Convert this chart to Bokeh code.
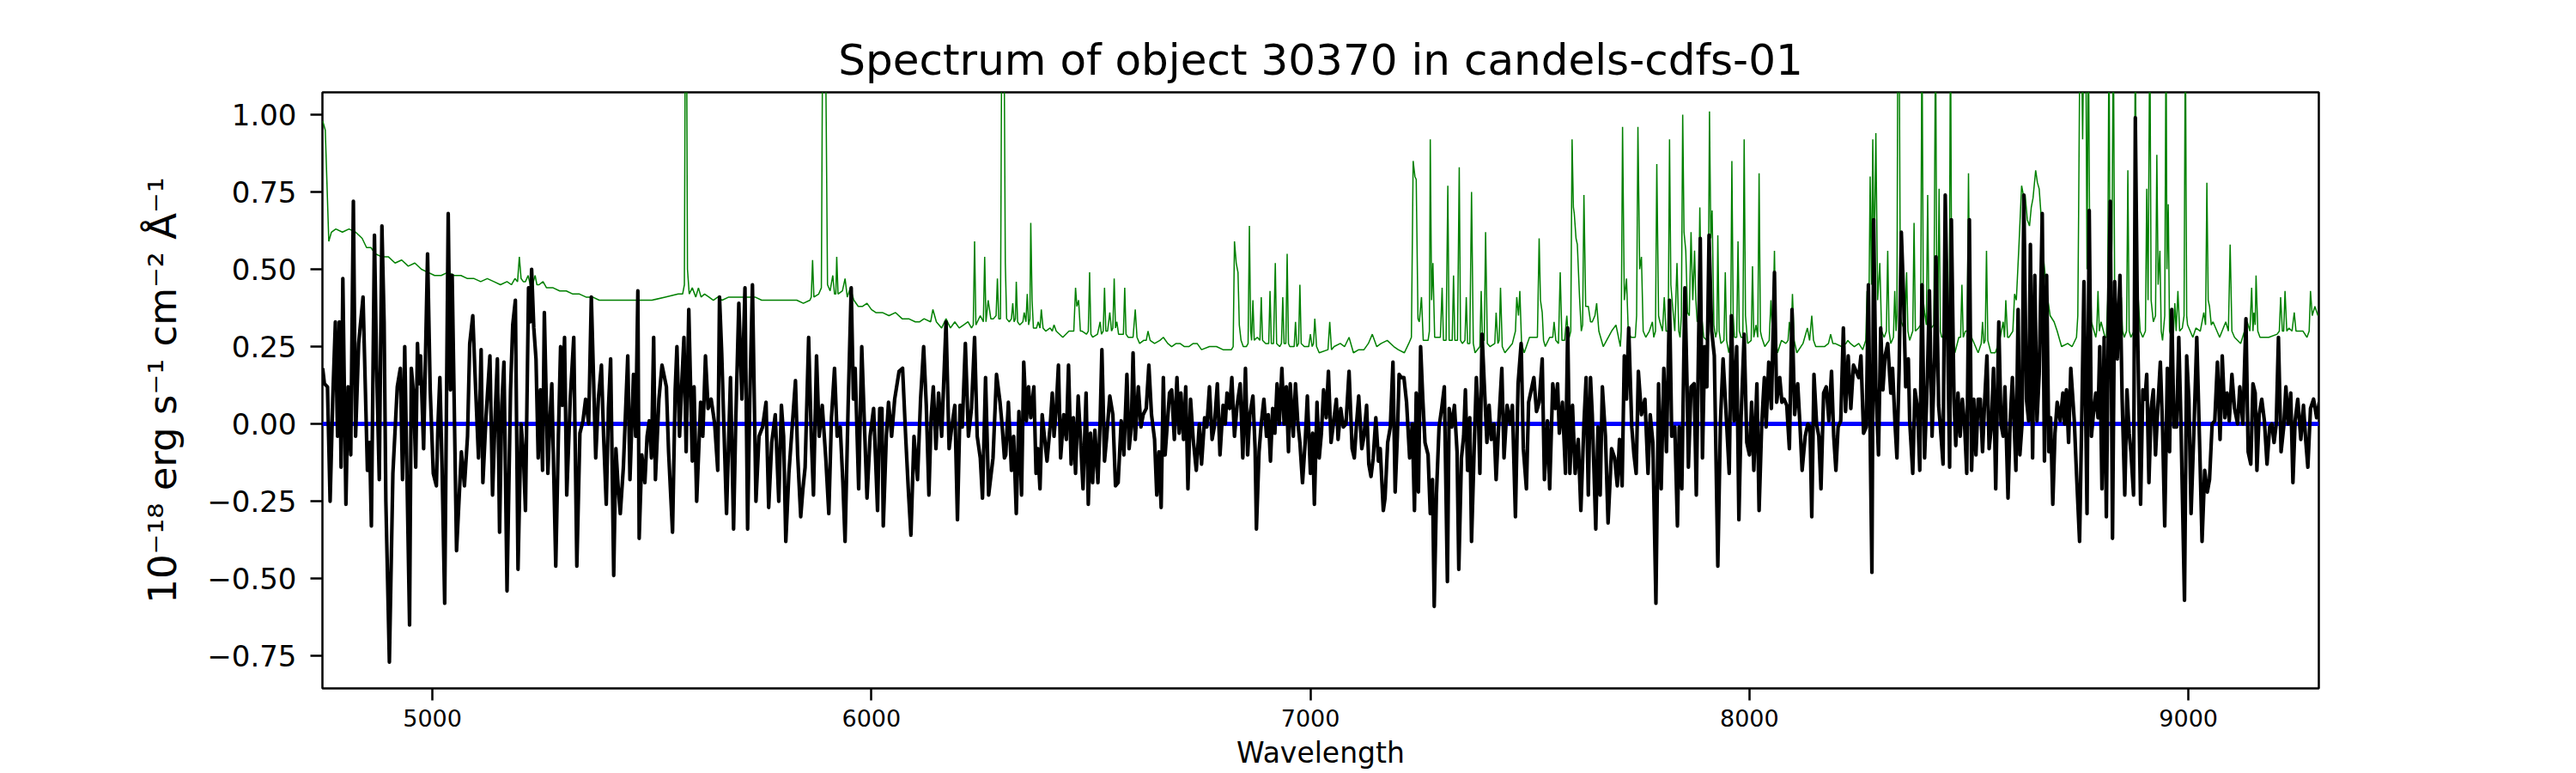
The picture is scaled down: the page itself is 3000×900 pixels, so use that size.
from bokeh.plotting import figure
from bokeh.models import Range1d, FixedTicker, CustomJSTickFormatter
from bokeh.embed import file_html
from bokeh.resources import INLINE

title_text = "Spectrum of object 30370 in candels-cdfs-01"
x_label = "Wavelength"
y_label = "10\u207b\u00b9\u2078 erg s\u207b\u00b9 cm\u207b\u00b2 \u00c5\u207b\u00b9"
x_ticks = [5000, 6000, 7000, 8000, 9000]
y_ticks = [-0.75, -0.5, -0.25, 0.0, 0.25, 0.5, 0.75, 1.0]
x_limits = (4749.5, 9297.0)
y_limits = (-0.855, 1.072)

# observed flux (black)
flux_wave = [
    4750, 4754, 4761, 4767, 4773, 4779, 4784, 4788, 4792, 4796,
    4803, 4808, 4814, 4820, 4825, 4832, 4842, 4852, 4857, 4861,
    4868, 4873, 4879, 4885, 4890, 4894, 4902, 4910, 4920, 4927,
    4932, 4937, 4948, 4952, 4957, 4962, 4966, 4969, 4973, 4980,
    4989, 4995, 5002, 5009, 5013, 5017, 5022, 5028, 5036, 5041,
    5045, 5055, 5066, 5073, 5080, 5085, 5092, 5098, 5105, 5111,
    5115, 5122, 5131, 5137, 5143, 5148, 5153, 5158, 5163, 5170,
    5178, 5183, 5189, 5195, 5202, 5207, 5212, 5219, 5223, 5226,
    5231, 5236, 5241, 5246, 5251, 5255, 5263, 5268, 5272, 5281,
    5287, 5292, 5296, 5301, 5306, 5314, 5322, 5329, 5336, 5343,
    5349, 5356, 5362, 5372, 5378, 5385, 5390, 5396, 5401, 5406,
    5413, 5418, 5423, 5428, 5435, 5445, 5450, 5458, 5463, 5468,
    5471, 5477, 5484, 5489, 5494, 5499, 5504, 5508, 5516, 5523,
    5533, 5538, 5547, 5553, 5557, 5563, 5568, 5573, 5578, 5584,
    5592, 5596, 5602, 5611, 5616, 5622, 5628, 5635, 5643, 5650,
    5654, 5659, 5664, 5670, 5679, 5686, 5691, 5698, 5705, 5712,
    5718, 5723, 5729, 5737, 5744, 5752, 5760, 5766, 5773, 5781,
    5789, 5795, 5800, 5805, 5812, 5820, 5827, 5832, 5839, 5844,
    5849, 5857, 5863, 5868, 5875, 5881, 5888, 5896, 5903, 5909,
    5916, 5922, 5929, 5935, 5940, 5947, 5954, 5959, 5963, 5971,
    5978, 5985, 5990, 5997, 6005, 6014, 6019, 6024, 6027, 6034,
    6039, 6046, 6053, 6063, 6071, 6078, 6084, 6090, 6097, 6105,
    6112, 6119, 6125, 6131, 6136, 6141, 6147, 6153, 6160, 6170,
    6177, 6183, 6190, 6196, 6202, 6207, 6214, 6221, 6228, 6235,
    6241, 6248, 6253, 6260, 6267, 6277, 6285, 6293, 6298, 6303,
    6306, 6312, 6319, 6324, 6330, 6336, 6342, 6347, 6353, 6358,
    6363, 6370, 6375, 6379, 6384, 6389, 6394, 6400, 6407, 6412,
    6416, 6421, 6426, 6431, 6438, 6444, 6449, 6455, 6460, 6465,
    6471, 6476, 6482, 6489, 6494, 6499, 6504, 6509, 6516, 6521,
    6525, 6531, 6536, 6543, 6550, 6556, 6562, 6569, 6575, 6582,
    6587, 6592, 6596, 6601, 6608, 6614, 6619, 6626, 6632, 6638,
    6645, 6650, 6655, 6660, 6665, 6669, 6674, 6679, 6684, 6690,
    6696, 6701, 6705, 6711, 6716, 6721, 6727, 6733, 6740, 6747,
    6752, 6759, 6764, 6770, 6776, 6781, 6788, 6794, 6801, 6806,
    6810, 6816, 6821, 6827, 6833, 6840, 6846, 6852, 6857, 6862,
    6869, 6874, 6877, 6883, 6888, 6894, 6900, 6904, 6909, 6914,
    6919, 6924, 6929, 6935, 6940, 6945, 6950, 6954, 6961, 6966,
    6971, 6976, 6982, 6988, 6993, 7000, 7005, 7009, 7015, 7020,
    7025, 7030, 7036, 7041, 7047, 7054, 7059, 7063, 7069, 7075,
    7081, 7088, 7095, 7100, 7105, 7110, 7117, 7122, 7128, 7133,
    7138, 7143, 7149, 7155, 7159, 7166, 7170, 7176, 7182, 7188,
    7193, 7198, 7202, 7207, 7213, 7219, 7226, 7232, 7237, 7241,
    7246, 7251, 7256, 7261, 7268, 7273, 7278, 7282, 7287, 7293,
    7299, 7305, 7312, 7316, 7322, 7328, 7334, 7338, 7344, 7349,
    7353, 7358, 7363, 7367, 7373, 7378, 7383, 7386, 7391, 7396,
    7402, 7407, 7412, 7418, 7423, 7429, 7436, 7441, 7448, 7455,
    7460, 7467, 7473, 7480, 7485, 7492, 7497, 7503, 7509, 7515,
    7521, 7528, 7533, 7540, 7545, 7552, 7558, 7563, 7567, 7574,
    7581, 7586, 7591, 7597, 7603, 7610, 7616, 7623, 7628, 7633,
    7638, 7642, 7650, 7655, 7660, 7665, 7672, 7678, 7686, 7693,
    7699, 7704, 7710, 7715, 7720, 7725, 7732, 7737, 7742, 7747,
    7754, 7762, 7769, 7774, 7780, 7787, 7793, 7799, 7805, 7811,
    7818, 7823, 7830, 7836, 7840, 7846, 7853, 7858, 7861, 7867,
    7874, 7879, 7884, 7888, 7893, 7898, 7903, 7908, 7914, 7920,
    7928, 7934, 7940, 7947, 7954, 7959, 7965, 7971, 7976, 7981,
    7988, 7994, 8000, 8005, 8010, 8017, 8022, 8028, 8034, 8038,
    8044, 8050, 8057, 8062, 8069, 8074, 8079, 8085, 8091, 8097,
    8103, 8110, 8115, 8120, 8127, 8133, 8138, 8142, 8147, 8153,
    8158, 8163, 8169, 8175, 8181, 8187, 8192, 8197, 8202, 8208,
    8214, 8219, 8225, 8231, 8237, 8243, 8249, 8254, 8260, 8266,
    8271, 8275, 8279, 8283, 8288, 8294, 8299, 8304, 8309, 8315,
    8322, 8326, 8332, 8336, 8341, 8346, 8351, 8356, 8362, 8365,
    8372, 8377, 8383, 8388, 8393, 8399, 8405, 8410, 8416, 8422,
    8425, 8431, 8435, 8441, 8446, 8451, 8456, 8460, 8466, 8470,
    8475, 8480, 8485, 8490, 8495, 8501, 8506, 8511, 8516, 8521,
    8526, 8531, 8536, 8541, 8546, 8551, 8556, 8561, 8568, 8573,
    8578, 8582, 8589, 8594, 8599, 8607, 8612, 8616, 8621, 8625,
    8631, 8636, 8640, 8645, 8650, 8655, 8660, 8667, 8672, 8677,
    8682, 8686, 8691, 8696, 8701, 8708, 8714, 8718, 8722, 8727,
    8732, 8740, 8745, 8752, 8757, 8762, 8769, 8774, 8779, 8784,
    8789, 8794, 8798, 8803, 8808, 8813, 8818, 8822, 8827, 8832,
    8838, 8844, 8849, 8855, 8860, 8865, 8869, 8875, 8879, 8884,
    8891, 8896, 8901, 8905, 8910, 8915, 8920, 8925, 8930, 8936,
    8941, 8946, 8952, 8957, 8962, 8967, 8973, 8978, 8983, 8991,
    8996, 9001, 9006, 9012, 9019, 9025, 9031, 9037, 9043, 9048,
    9054, 9060, 9066, 9072, 9077, 9083, 9088, 9093, 9099, 9105,
    9112, 9117, 9124, 9131, 9136, 9142, 9147, 9152, 9156, 9161,
    9167, 9173, 9179, 9185, 9190, 9195, 9200, 9205, 9211, 9217,
    9222, 9227, 9233, 9238, 9243, 9249, 9256, 9262, 9267, 9272,
    9278, 9285, 9292, 9298,
]
flux = [
    0.18, 0.13, 0.12, -0.25, 0.08, 0.33, -0.04, 0.33, -0.14, 0.47,
    -0.26, 0.12, -0.10, 0.72, -0.04, 0.26, 0.41, -0.15, -0.06, -0.33,
    0.61, 0.18, -0.18, 0.64, 0.33, -0.25, -0.77, -0.16, 0.12, 0.18,
    -0.18, 0.25, -0.65, 0.18, 0.10, -0.14, 0.26, 0.13, 0.22, -0.08,
    0.55, 0.11, -0.16, -0.20, 0.01, 0.15, -0.14, -0.58, 0.68, 0.11,
    0.48, -0.41, -0.09, -0.20, -0.04, 0.26, 0.35, 0.13, -0.11, 0.24,
    -0.19, 0.02, 0.22, -0.23, 0.03, 0.21, -0.35, 0.06, 0.20, -0.54,
    0.11, 0.32, 0.40, -0.47, 0.00, -0.09, -0.28, 0.44, 0.33, 0.50,
    0.31, 0.21, -0.11, 0.11, -0.15, 0.36, -0.16, 0.02, 0.13, -0.46,
    -0.04, 0.25, 0.06, 0.28, -0.23, 0.08, 0.28, -0.46, -0.03, 0.01,
    0.08, 0.00, 0.41, -0.11, 0.08, 0.19, -0.04, -0.26, 0.05, 0.21,
    -0.49, -0.08, -0.20, -0.29, -0.14, 0.22, -0.18, 0.16, -0.04, 0.43,
    -0.37, -0.10, -0.19, -0.04, 0.01, -0.11, 0.28, -0.18, 0.08, 0.19,
    0.12, -0.09, -0.35, 0.11, 0.25, -0.04, 0.13, 0.28, -0.09, 0.37,
    -0.12, 0.12, -0.25, 0.07, -0.04, 0.22, 0.05, 0.08, 0.00, -0.15,
    0.41, 0.23, -0.01, -0.29, 0.15, -0.34, 0.01, 0.39, 0.08, 0.44,
    -0.34, 0.08, 0.45, -0.25, -0.04, -0.01, 0.07, -0.27, -0.06, 0.03,
    -0.25, 0.06, -0.04, -0.38, -0.16, 0.00, 0.14, -0.10, -0.30, -0.21,
    -0.14, 0.28, -0.04, -0.23, 0.22, -0.04, 0.06, -0.11, -0.29, 0.02,
    0.18, -0.04, -0.01, -0.19, -0.38, 0.06, 0.44, 0.08, 0.18, -0.21,
    0.25, -0.04, -0.24, -0.04, 0.05, -0.28, 0.05, 0.05, -0.33, -0.04,
    0.07, -0.04, 0.08, 0.17, 0.18, -0.04, -0.21, -0.36, -0.04, -0.18,
    0.08, 0.25, 0.06, -0.23, 0.02, 0.12, -0.08, 0.10, -0.04, 0.33,
    -0.08, -0.01, 0.06, -0.31, 0.06, -0.01, 0.26, -0.04, 0.05, 0.28,
    -0.04, -0.11, -0.24, 0.15, -0.23, -0.11, 0.16, 0.07, -0.01, -0.11,
    -0.10, 0.07, -0.15, -0.04, -0.29, 0.04, -0.23, 0.20, 0.01, 0.12,
    0.02, 0.12, -0.16, -0.08, -0.21, 0.03, -0.04, -0.12, -0.01, 0.10,
    -0.04, 0.05, 0.19, -0.11, 0.03, -0.05, 0.19, -0.13, 0.02, -0.16,
    0.09, -0.04, -0.21, 0.10, -0.26, -0.03, -0.19, -0.02, -0.19, 0.01,
    0.24, -0.12, -0.04, 0.09, 0.03, -0.20, -0.19, 0.01, -0.10, 0.16,
    -0.08, -0.01, 0.23, -0.05, 0.12, -0.01, 0.03, 0.05, 0.19, 0.03,
    -0.05, -0.23, -0.09, -0.27, 0.15, -0.10, 0.00, 0.10, 0.11, -0.05,
    0.15, -0.03, 0.10, -0.05, 0.12, -0.21, 0.08, -0.05, -0.15, 0.00,
    -0.13, 0.02, -0.01, 0.12, -0.05, -0.01, 0.13, -0.10, 0.06, 0.00,
    0.10, 0.05, 0.15, -0.04, 0.06, 0.13, -0.11, 0.18, -0.10, 0.03,
    0.09, -0.08, -0.34, -0.09, 0.00, 0.08, -0.04, 0.03, -0.12, 0.05,
    -0.03, 0.13, 0.00, 0.18, 0.00, 0.12, -0.09, 0.13, -0.04, 0.13,
    0.01, -0.06, -0.19, -0.06, 0.09, -0.16, -0.03, -0.26, 0.07, -0.11,
    -0.03, 0.11, 0.02, 0.17, -0.06, 0.02, 0.08, -0.05, 0.05, -0.01,
    0.00, 0.17, -0.08, -0.11, 0.00, 0.09, -0.08, -0.04, 0.06, -0.13,
    -0.17, -0.11, 0.02, -0.12, -0.08, -0.28, -0.24, -0.06, -0.01, 0.20,
    -0.22, -0.04, 0.16, 0.15, 0.15, 0.07, -0.11, 0.00, -0.28, 0.10,
    -0.22, 0.25, 0.08, -0.06, -0.10, -0.29, -0.18, -0.59, -0.23, -0.01,
    0.05, 0.12, -0.51, 0.05, -0.01, 0.06, -0.09, -0.47, -0.11, -0.04,
    0.11, -0.15, 0.02, -0.38, -0.08, 0.15, 0.01, -0.16, 0.29, 0.13,
    -0.06, 0.06, -0.05, 0.00, -0.18, 0.00, 0.18, -0.11, 0.06, 0.00,
    0.06, -0.30, 0.13, 0.26, -0.08, -0.21, 0.07, 0.11, 0.15, 0.04,
    0.07, 0.21, -0.18, 0.01, -0.21, 0.13, 0.05, 0.13, -0.03, 0.07,
    -0.16, 0.31, -0.16, 0.06, -0.16, -0.05, -0.28, 0.00, 0.15, -0.23,
    0.15, 0.03, -0.34, -0.01, -0.23, 0.12, -0.04, -0.32, -0.08, -0.11,
    -0.20, -0.05, -0.20, 0.22, 0.08, 0.31, -0.01, -0.10, -0.16, 0.17,
    0.03, 0.08, -0.16, 0.03, -0.06, -0.58, 0.13, -0.21, 0.18, -0.09,
    0.40, -0.04, -0.01, -0.33, -0.01, -0.21, 0.44, 0.12, -0.14, 0.12,
    0.13, -0.23, 0.25, 0.60, -0.11, 0.25, 0.12, 0.61, 0.30, 0.22,
    -0.46, 0.01, 0.21, 0.03, -0.16, 0.35, 0.01, 0.25, -0.31, 0.02,
    0.29, -0.06, -0.10, 0.07, -0.15, 0.13, -0.28, 0.00, 0.15, -0.01,
    0.20, 0.05, 0.49, 0.07, 0.15, 0.07, 0.08, 0.06, -0.08, 0.37,
    0.03, 0.13, 0.00, -0.15, -0.04, 0.00, -0.01, -0.30, 0.16, 0.00,
    -0.04, -0.21, 0.10, 0.12, 0.01, 0.17, -0.04, -0.15, -0.01, 0.01,
    0.31, 0.04, 0.22, 0.05, 0.19, 0.17, 0.15, 0.22, -0.03, -0.01,
    0.45, -0.04, -0.48, 0.66, 0.12, -0.10, 0.31, 0.11, 0.22, 0.26,
    0.10, 0.18, -0.01, -0.11, 0.18, 0.62, 0.42, 0.12, 0.21, 0.01,
    -0.16, 0.11, 0.05, -0.15, 0.45, -0.11, 0.13, 0.43, -0.04, 0.22,
    0.54, 0.06, -0.01, -0.13, 0.74, 0.33, -0.14, 0.66, 0.08, -0.07,
    0.10, -0.04, 0.08, 0.00, -0.16, 0.66, -0.15, 0.08, -0.10, 0.08,
    0.08, -0.09, 0.08, 0.22, -0.08, -0.01, 0.18, -0.21, 0.33, 0.00,
    -0.04, 0.12, -0.24, 0.01, 0.15, -0.15, 0.37, -0.10, 0.00, 0.74,
    0.08, 0.01, 0.58, -0.11, 0.48, 0.01, 0.16, 0.68, -0.12, 0.48,
    -0.09, 0.02, -0.26, -0.03, 0.07, 0.01, 0.10, 0.00, 0.11, -0.06,
    0.18, 0.01, -0.16, -0.38, 0.02, 0.46, -0.29, 0.69, -0.04, 0.04,
    0.10, 0.02, 0.25, -0.21, 0.28, -0.30, 0.36, 0.72, -0.37, 0.46,
    0.21, 0.48, 0.08, -0.23, 0.11, -0.03, -0.09, -0.23, 0.99, 0.32,
    -0.26, 0.11, 0.08, 0.16, -0.19, 0.05, 0.11, -0.10, 0.05, 0.20,
    -0.01, -0.33, 0.18, -0.09, 0.37, -0.01, -0.01, 0.28, 0.00, -0.57,
    0.22, 0.08, -0.29, -0.04, 0.28, -0.04, -0.38, -0.15, -0.22, -0.18,
    0.00, 0.01, 0.20, -0.05, 0.22, 0.02, 0.10, 0.01, 0.16, 0.05,
    0.00, 0.12, 0.00, 0.34, -0.09, -0.13, 0.13, 0.10, -0.15, 0.03,
    0.08, 0.01, -0.13, -0.01, 0.00, -0.06, 0.00, 0.28, -0.09, -0.01,
    0.12, 0.00, 0.10, -0.19, 0.01, 0.08, -0.05, 0.06, -0.05, -0.14,
    0.05, 0.08, 0.02, 0.07,
]

# sky / noise spectrum (green)
sky_wave = [
    4750, 4756, 4764, 4770, 4780, 4795, 4810, 4825, 4840, 4850,
    4860, 4870, 4885, 4900, 4915, 4930, 4945, 4960, 4975, 4990,
    5005, 5020, 5035, 5050, 5065, 5080, 5095, 5110, 5125, 5140,
    5155, 5170, 5180, 5188, 5194, 5198, 5202, 5207, 5212, 5218,
    5223, 5228, 5234, 5238, 5243, 5252, 5260, 5275, 5290, 5305,
    5320, 5335, 5350, 5365, 5380, 5395, 5410, 5440, 5470, 5500,
    5530, 5560, 5570, 5574, 5576, 5579, 5581, 5585, 5592, 5600,
    5606, 5612, 5620, 5630, 5640, 5650, 5660, 5675, 5690, 5705,
    5720, 5735, 5750, 5765, 5780, 5800, 5815, 5830, 5845, 5860,
    5863, 5866, 5869, 5880, 5886, 5889, 5895, 5897, 5900, 5906,
    5912, 5916, 5919, 5921, 5924, 5934, 5940, 5945, 5952, 5960,
    5970, 5980, 5990, 6000, 6010, 6025, 6040, 6055, 6070, 6085,
    6100, 6110, 6120, 6135, 6140, 6148, 6160, 6170, 6180, 6190,
    6200, 6210, 6220, 6228, 6232, 6235, 6238, 6248, 6255, 6258,
    6261,
    6266, 6272, 6278, 6284, 6287, 6290, 6294, 6297, 6302, 6305,
    6308, 6314, 6319, 6322, 6325, 6328, 6330, 6333, 6338, 6345,
    6348, 6352, 6355, 6358, 6361, 6363, 6366, 6369, 6376, 6380,
    6384, 6387, 6391, 6397, 6407, 6412, 6416, 6421, 6436, 6450,
    6461, 6465, 6468, 6472, 6476, 6480, 6490, 6494, 6497, 6500,
    6504, 6515, 6521, 6524, 6528, 6531, 6534, 6538, 6543, 6547,
    6550, 6553, 6556, 6559, 6563, 6567, 6574, 6577, 6580, 6585,
    6596, 6601, 6605, 6611, 6620, 6626, 6630, 6635, 6645, 6657,
    6665, 6675, 6684, 6694, 6703, 6713, 6723, 6733, 6742, 6752,
    6770, 6786, 6801, 6820, 6824, 6827, 6831, 6835, 6838, 6842,
    6847, 6854, 6858, 6861, 6864, 6866, 6869, 6872, 6879, 6885,
    6888, 6891, 6898, 6905, 6908, 6911, 6916, 6920, 6923, 6930,
    6934, 6937, 6940, 6944, 6947, 6950, 6953, 6963, 6966, 6969,
    6973, 6976, 6979, 6986, 6996, 7000, 7004, 7007, 7010, 7014,
    7020, 7040, 7044, 7048, 7054, 7068, 7078, 7088, 7098, 7110,
    7122, 7132, 7141, 7151, 7161, 7175, 7190, 7200, 7214, 7224,
    7230, 7234, 7238, 7241, 7245, 7248, 7253, 7257, 7268, 7271,
    7273, 7276, 7279, 7283, 7287, 7296, 7300, 7303, 7309, 7313,
    7316, 7323, 7326, 7329, 7335, 7339, 7342, 7346, 7352, 7355,
    7358, 7363, 7367, 7371, 7375, 7386, 7389, 7392, 7396, 7399,
    7403, 7409, 7420, 7423, 7427, 7430, 7433, 7437, 7443, 7460,
    7467, 7470, 7474, 7477, 7481, 7487, 7499, 7509, 7517, 7521,
    7524, 7528, 7531, 7535, 7545, 7552, 7555, 7559, 7565, 7569,
    7573, 7579, 7584, 7588, 7593, 7596, 7599, 7601, 7605, 7608,
    7613, 7617, 7620, 7623, 7627, 7633, 7638, 7642, 7648, 7652,
    7657, 7667, 7686, 7696, 7706, 7708, 7711, 7715, 7720, 7724,
    7730, 7740, 7743, 7746, 7750, 7754, 7758, 7764, 7772, 7779,
    7782, 7786, 7789, 7793, 7796, 7802, 7806, 7810, 7815, 7818,
    7821, 7825, 7830, 7835, 7839, 7842, 7845, 7848, 7851, 7855,
    7859, 7863, 7867, 7871, 7875, 7878, 7881, 7884, 7887, 7891,
    7896, 7903, 7906, 7909, 7912, 7915, 7919, 7923, 7926, 7928,
    7931, 7935, 7942, 7945, 7948, 7953, 7957, 7960, 7963, 7966,
    7971, 7974, 7977, 7981, 7985, 7988, 7991, 7996, 8004, 8007,
    8010, 8015, 8019, 8022, 8025, 8028, 8035, 8045, 8049, 8053,
    8057, 8060, 8064, 8073, 8083, 8088, 8091, 8095, 8098, 8102,
    8108, 8122, 8132, 8137, 8142, 8146, 8151, 8171, 8180, 8185,
    8190, 8195, 8210, 8220, 8224, 8230, 8239, 8249, 8258, 8265,
    8268, 8272, 8275, 8278, 8281, 8284, 8288, 8292, 8297, 8301,
    8307, 8312, 8315, 8318, 8322, 8328, 8331, 8334, 8336, 8338,
    8341, 8344, 8346, 8354, 8358, 8361, 8365, 8372, 8375, 8378,
    8385, 8390, 8393, 8396, 8399, 8403, 8406, 8409, 8414, 8420,
    8424, 8427, 8429, 8432, 8435, 8438, 8445, 8448, 8451, 8455,
    8458, 8461, 8468, 8477, 8481, 8484, 8487, 8492, 8496, 8499,
    8502, 8506, 8521, 8528, 8531, 8534, 8537, 8540, 8543, 8550,
    8560, 8570, 8578, 8581, 8584, 8588, 8591, 8600, 8604, 8608,
    8614, 8620, 8624, 8628, 8633, 8638, 8642, 8646, 8652, 8656,
    8660, 8664, 8667, 8671, 8675, 8680, 8685, 8694, 8701, 8711,
    8725, 8735, 8745, 8748, 8750, 8753, 8756, 8759, 8762, 8766,
    8769, 8772, 8775, 8779, 8789, 8791, 8794, 8797, 8801, 8810,
    8813, 8816, 8819, 8821, 8823, 8826, 8829, 8832, 8837, 8844,
    8847, 8850, 8854, 8859, 8862, 8865, 8869, 8876, 8879, 8882,
    8886, 8890, 8896, 8902, 8905, 8908, 8912, 8915, 8920, 8925,
    8928, 8931, 8935, 8938, 8941, 8946, 8949, 8951, 8954, 8957,
    8961, 8966, 8969, 8972, 8976, 8980, 8986, 8990, 8993, 8996,
    8998, 9010, 9017, 9027, 9035, 9039, 9042, 9045, 9048, 9052,
    9056, 9071, 9085, 9091, 9095, 9099, 9105, 9119, 9134, 9140,
    9144, 9147, 9149, 9152, 9154, 9158, 9163, 9183, 9202, 9207,
    9210, 9214, 9217, 9220, 9224, 9229, 9236, 9241, 9245, 9251,
    9261, 9270, 9275, 9278, 9282, 9288, 9295,
]
sky = [
    0.98, 0.95, 0.59, 0.62, 0.63, 0.62, 0.63, 0.62, 0.60, 0.57,
    0.57, 0.55, 0.54, 0.54, 0.52, 0.53, 0.51, 0.52, 0.50, 0.49,
    0.48, 0.48, 0.49, 0.48, 0.48, 0.47, 0.47, 0.46, 0.47, 0.46,
    0.45, 0.46, 0.45, 0.47, 0.46, 0.54, 0.47, 0.46, 0.46, 0.48,
    0.45, 0.45, 0.48, 0.45, 0.45, 0.46, 0.44, 0.44, 0.43, 0.43,
    0.42, 0.42, 0.41, 0.41, 0.40, 0.40, 0.40, 0.40, 0.40, 0.40,
    0.41, 0.42, 0.42, 0.45, 1.30, 1.30, 0.50, 0.42, 0.44, 0.41,
    0.44, 0.41, 0.42, 0.41, 0.40, 0.41, 0.40, 0.41, 0.41, 0.41,
    0.41, 0.41, 0.40, 0.40, 0.40, 0.40, 0.40, 0.40, 0.39, 0.40,
    0.41, 0.53, 0.41, 0.42, 0.44, 1.30, 1.30, 0.99, 0.45, 0.43,
    0.48, 0.42, 0.42, 0.54, 0.42, 0.43, 0.47, 0.41, 0.44, 0.40,
    0.38, 0.38, 0.39, 0.37, 0.36, 0.36, 0.35, 0.36, 0.34, 0.34,
    0.33, 0.33, 0.34, 0.33, 0.37, 0.33, 0.31, 0.34, 0.31, 0.33,
    0.31, 0.32, 0.33, 0.31, 0.32, 0.59, 0.32, 0.35, 0.33, 0.54,
    0.33,
    0.40, 0.34, 0.34, 0.35, 0.47, 0.34, 0.34, 1.30, 1.30, 0.52,
    0.34, 0.33, 0.34, 0.39, 0.33, 0.34, 0.46, 0.33, 0.32, 0.33,
    0.36, 0.33, 0.42, 0.32, 0.34, 0.65, 0.40, 0.31, 0.31, 0.33,
    0.31, 0.37, 0.31, 0.30, 0.31, 0.30, 0.32, 0.30, 0.28, 0.30,
    0.30, 0.44, 0.38, 0.40, 0.30, 0.30, 0.29, 0.30, 0.49, 0.29,
    0.28, 0.29, 0.33, 0.29, 0.30, 0.44, 0.30, 0.30, 0.36, 0.30,
    0.31, 0.47, 0.31, 0.33, 0.29, 0.29, 0.29, 0.44, 0.29, 0.28,
    0.28, 0.37, 0.28, 0.26, 0.27, 0.27, 0.30, 0.27, 0.26, 0.27,
    0.28, 0.26, 0.25, 0.26, 0.26, 0.25, 0.25, 0.26, 0.26, 0.24,
    0.25, 0.25, 0.24, 0.24, 0.25, 0.59, 0.52, 0.49, 0.32, 0.27,
    0.25, 0.25, 0.26, 0.64, 0.30, 0.27, 0.40, 0.27, 0.28, 0.27,
    0.41, 0.27, 0.26, 0.26, 0.43, 0.26, 0.26, 0.52, 0.26, 0.25,
    0.26, 0.41, 0.26, 0.26, 0.55, 0.26, 0.25, 0.25, 0.33, 0.25,
    0.26, 0.45, 0.26, 0.25, 0.25, 0.29, 0.25, 0.26, 0.34, 0.25,
    0.23, 0.24, 0.33, 0.24, 0.25, 0.26, 0.25, 0.28, 0.23, 0.24,
    0.24, 0.26, 0.29, 0.25, 0.26, 0.27, 0.25, 0.24, 0.23, 0.26,
    0.28, 0.85, 0.80, 0.79, 0.34, 0.33, 0.41, 0.27, 0.27, 0.30,
    0.92, 0.40, 0.52, 0.28, 0.28, 0.28, 0.44, 0.27, 0.27, 0.77,
    0.27, 0.27, 0.48, 0.27, 0.27, 0.83, 0.27, 0.26, 0.27, 0.41,
    0.26, 0.26, 0.75, 0.26, 0.23, 0.25, 0.43, 0.27, 0.27, 0.62,
    0.26, 0.25, 0.26, 0.36, 0.26, 0.27, 0.44, 0.25, 0.23, 0.26,
    0.30, 0.41, 0.35, 0.43, 0.26, 0.23, 0.28, 0.28, 0.28, 0.60,
    0.40, 0.36, 0.27, 0.25, 0.28, 0.28, 0.33, 0.27, 0.26, 0.49,
    0.27, 0.27, 0.35, 0.27, 0.30, 0.92, 0.70, 0.68, 0.60, 0.58,
    0.41, 0.30, 0.32, 0.74, 0.38, 0.38, 0.33, 0.33, 0.35, 0.39,
    0.30, 0.25, 0.30, 0.32, 0.25, 0.30, 0.96, 0.40, 0.47, 0.30,
    0.28, 0.28, 0.35, 0.96, 0.50, 0.54, 0.30, 0.28, 0.30, 0.33,
    0.28, 0.30, 0.84, 0.35, 0.33, 0.30, 0.41, 0.30, 0.30, 0.92,
    0.45, 0.38, 0.30, 0.52, 0.30, 0.28, 0.35, 1.00, 0.62, 0.56,
    0.36, 0.35, 0.62, 0.40, 0.56, 0.40, 0.33, 0.35, 0.70, 0.35,
    0.28, 0.27, 0.35, 1.01, 0.60, 0.69, 0.32, 0.28, 0.30, 0.61,
    0.30, 0.26, 0.27, 0.49, 0.27, 0.23, 0.27, 0.85, 0.35, 0.28,
    0.28, 0.59, 0.30, 0.28, 0.28, 0.92, 0.35, 0.26, 0.27, 0.51,
    0.28, 0.32, 0.28, 0.81, 0.30, 0.28, 0.25, 0.27, 0.40, 0.28,
    0.56, 0.28, 0.23, 0.27, 0.26, 0.27, 0.33, 0.28, 0.42, 0.27,
    0.23, 0.26, 0.31, 0.27, 0.35, 0.27, 0.25, 0.25, 0.26, 0.29,
    0.26, 0.26, 0.25, 0.26, 0.27, 0.26, 0.25, 0.26, 0.24, 0.27,
    0.43, 0.35, 0.80, 0.45, 0.92, 0.50, 0.94, 0.40, 0.52, 0.30,
    0.28, 0.30, 0.56, 0.30, 0.26, 0.28, 0.43, 0.30, 0.35, 1.30,
    1.30, 0.35, 0.33, 0.30, 0.49, 0.30, 0.27, 0.30, 0.65, 0.30,
    0.31, 0.32, 1.30, 0.40, 0.36, 0.32, 0.74, 0.32, 0.31, 0.32,
    1.30, 0.35, 0.33, 0.76, 0.30, 0.28, 0.29, 0.43, 0.29, 0.30,
    1.30, 0.30, 0.23, 0.28, 0.28, 0.45, 0.28, 0.30, 0.30, 0.81,
    0.30, 0.28, 0.23, 0.26, 0.33, 0.26, 0.27, 0.56, 0.27, 0.23,
    0.23, 0.27, 0.33, 0.28, 0.40, 0.28, 0.28, 0.30, 0.42, 0.40,
    0.58, 0.77, 0.74, 0.74, 0.66, 0.64, 0.70, 0.73, 0.82, 0.78,
    0.76, 0.68, 0.61, 0.52, 0.46, 0.40, 0.35, 0.33, 0.30, 0.25,
    0.26, 0.25, 0.28, 0.35, 0.71, 1.30, 1.30, 0.92, 1.30, 1.30,
    0.50, 1.30, 0.60, 0.33, 0.28, 0.30, 0.43, 0.30, 0.33, 0.28,
    0.28, 0.40, 1.30, 0.60, 0.43, 0.60, 1.30, 0.40, 0.32, 0.33,
    0.41, 0.30, 0.28, 0.30, 0.82, 0.30, 0.28, 0.30, 1.30, 0.45,
    0.40, 0.30, 0.28, 0.30, 0.76, 0.40, 1.30, 0.40, 0.33, 0.35,
    0.87, 0.45, 0.56, 0.30, 0.27, 0.35, 1.30, 0.50, 0.71, 0.30,
    0.28, 0.30, 0.39, 0.30, 0.43, 0.30, 0.31, 0.35, 1.30, 0.35,
    0.32, 0.28, 0.31, 0.30, 0.36, 0.32, 0.78, 0.40, 0.38, 0.32,
    0.33, 0.28, 0.33, 0.30, 0.58, 0.30, 0.28, 0.26, 0.33, 0.30,
    0.44, 0.30, 0.36, 0.32, 0.48, 0.30, 0.28, 0.28, 0.29, 0.30,
    0.41, 0.30, 0.30, 0.43, 0.30, 0.31, 0.30, 0.36, 0.30, 0.30,
    0.30, 0.28, 0.30, 0.43, 0.35, 0.38, 0.35,
]

# fitted model (blue)
model_wave = [4749.5, 9297.0]
model = [0.0, 0.0]

FONT = "DejaVu Sans"

nf = min(len(flux_wave), len(flux))
ns = min(len(sky_wave), len(sky))

p = figure(
    frame_width=2325, frame_height=694,
    min_border_left=375, min_border_right=280,
    min_border_top=107, min_border_bottom=60,
    x_range=Range1d(*x_limits), y_range=Range1d(*y_limits),
    output_backend="svg", toolbar_location=None,
    title=title_text,
)
p.background_fill_color = "white"
p.border_fill_color = "white"
p.outline_line_color = "black"
p.outline_line_width = 2.5
p.xgrid.visible = False
p.ygrid.visible = False

p.title.align = "center"
p.title.text_font = FONT
p.title.text_font_size = "50px"
p.title.text_font_style = "normal"
p.title.text_color = "black"
p.title.standoff = 18

p.line(sky_wave[:ns], sky[:ns], line_color="#008000", line_width=1.5)
p.line(model_wave, model, line_color="#0000ff", line_width=5)
p.line(flux_wave[:nf], flux[:nf], line_color="black", line_width=4.2,
       line_join="round")

xa = p.xaxis[0]
ya = p.yaxis[0]
for ax in (xa, ya):
    ax.axis_line_color = None
    ax.major_tick_out = 14
    ax.major_tick_in = 0
    ax.major_tick_line_width = 2.5
    ax.major_tick_line_color = "black"
    ax.minor_tick_line_color = None
    ax.major_label_text_font = FONT
    ax.major_label_text_color = "black"
    ax.axis_label_text_font = FONT
    ax.axis_label_text_font_style = "normal"
    ax.axis_label_text_color = "black"

xa.ticker = FixedTicker(ticks=x_ticks)
xa.formatter = CustomJSTickFormatter(code="return tick.toFixed(0);")
xa.major_label_text_font_size = "27px"
xa.major_label_standoff = 10
xa.axis_label = x_label
xa.axis_label_text_font_size = "33px"
xa.axis_label_standoff = 8

ya.ticker = FixedTicker(ticks=y_ticks)
ya.formatter = CustomJSTickFormatter(code="return tick.toFixed(2).replace('-', '\\u2212');")
ya.major_label_text_font_size = "34px"
ya.major_label_standoff = 16
ya.axis_label = y_label
ya.axis_label_text_font_size = "45px"
ya.axis_label_standoff = 22

open("out.html", "w").write(file_html(p, INLINE))
